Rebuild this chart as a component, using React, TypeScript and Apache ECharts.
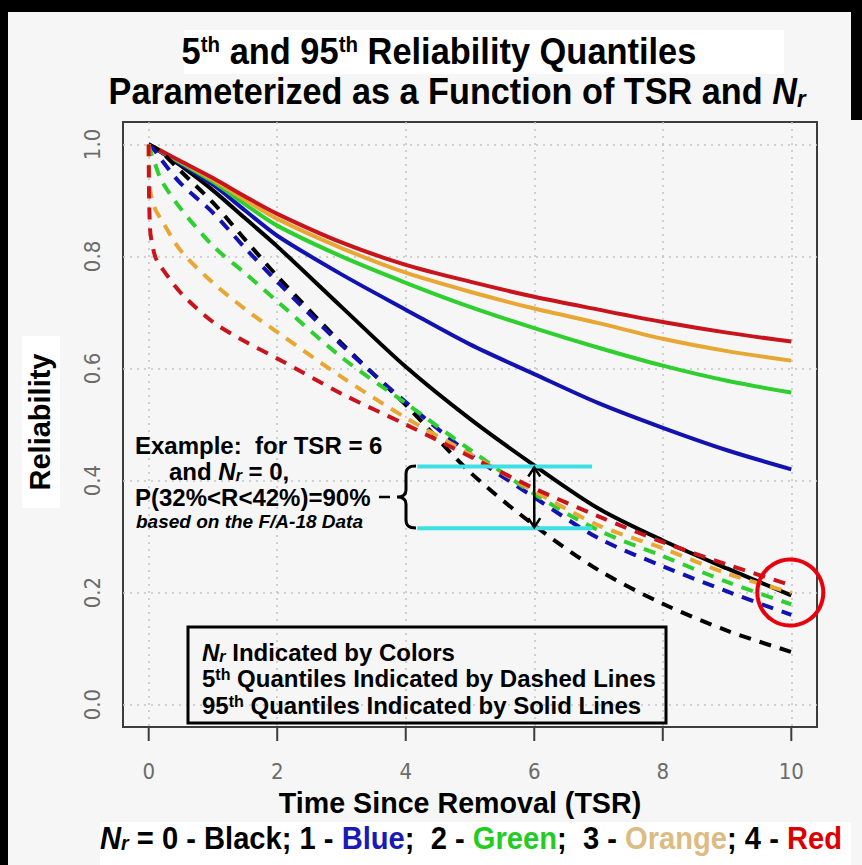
import React, { useEffect, useRef } from "react";
import * as echarts from "echarts";

// ---- data ----
const tsr = [0, 0.02, 0.1, 0.2, 0.5, 1, 1.5, 2, 3, 4, 5, 6, 7, 8, 9, 10];

// 95th quantiles (solid lines)
const q95Nr0 = [1.0, 0.998, 0.993, 0.986, 0.962, 0.918, 0.868, 0.818, 0.71, 0.603, 0.51, 0.427, 0.35, 0.293, 0.243, 0.195];
const q95Nr1 = [1.0, 0.998, 0.993, 0.986, 0.965, 0.928, 0.882, 0.837, 0.768, 0.705, 0.643, 0.59, 0.538, 0.494, 0.454, 0.42];
const q95Nr2 = [1.0, 0.998, 0.994, 0.987, 0.967, 0.933, 0.893, 0.855, 0.8, 0.753, 0.71, 0.672, 0.637, 0.605, 0.578, 0.557];
const q95Nr3 = [1.0, 0.998, 0.994, 0.988, 0.969, 0.937, 0.901, 0.867, 0.815, 0.771, 0.737, 0.707, 0.681, 0.653, 0.631, 0.614];
const q95Nr4 = [1.0, 0.999, 0.994, 0.988, 0.97, 0.94, 0.907, 0.876, 0.825, 0.785, 0.755, 0.728, 0.705, 0.683, 0.664, 0.648];

// 5th quantiles (dashed lines)
const q05Nr0 = [1.0, 0.999, 0.994, 0.986, 0.952, 0.896, 0.83, 0.765, 0.645, 0.535, 0.415, 0.32, 0.24, 0.18, 0.132, 0.094];
const q05Nr1 = [1.0, 0.998, 0.988, 0.972, 0.93, 0.878, 0.815, 0.755, 0.642, 0.54, 0.447, 0.37, 0.297, 0.247, 0.202, 0.16];
const q05Nr2 = [1.0, 0.99, 0.965, 0.935, 0.885, 0.819, 0.77, 0.72, 0.62, 0.538, 0.455, 0.376, 0.311, 0.265, 0.219, 0.179];
const q05Nr3 = [1.0, 0.92, 0.885, 0.865, 0.81, 0.753, 0.706, 0.665, 0.585, 0.512, 0.447, 0.381, 0.32, 0.279, 0.234, 0.2];
const q05Nr4 = [1.0, 0.85, 0.8, 0.78, 0.735, 0.683, 0.648, 0.618, 0.555, 0.5, 0.443, 0.386, 0.336, 0.29, 0.25, 0.213];

const xTicks = [0, 2, 4, 6, 8, 10];
const yTicks = [0, 0.2, 0.4, 0.6, 0.8, 1.0];
const xRange = [-0.4, 10.4];
const yRange = [-0.04, 1.04];

// example annotation (TSR = 6, Nr = 0)
const exampleTSR = 6;
const exampleUpper = 0.425;
const exampleLower = 0.315;
const cyanFrom = 4.18;
const cyanTo = 6.9;
const circledPoint = [10, 0.2];

const nrColors = ["#000000", "#1212b0", "#2ecf2e", "#e8a632", "#c8141c"];

const BRACE_D =
  "M20,0 C13,0 10,2 10,8 L10,24 C10,29 7,31 1,31 C7,31 10,33 10,38 L10,54 C10,60 13,62 20,62";
echarts.graphic.registerShape("brace", echarts.graphic.extendPath(BRACE_D, {}));

const SANS = "'Liberation Sans', Arial, Helvetica, sans-serif";
const NARROW = "'Liberation Sans Narrow', 'Arial Narrow', 'DejaVu Sans Condensed', 'Liberation Sans', sans-serif";
const AXIS_COLOR = "#3c3c3c";

// plot box layout
const BOX = { left: 123, top: 122, right: 45, bottom: 138 };
const TICK_PX = 14;

export default function App() {
  const ref = useRef<HTMLDivElement>(null);

  useEffect(() => {
    const el = ref.current!;
    const chart = echarts.init(el, null, { renderer: "svg" });

    const pairs = (ys: number[]) => tsr.map((t, i) => [t, ys[i]]);
    const solids = [q95Nr0, q95Nr1, q95Nr2, q95Nr3, q95Nr4];
    const dashes = [q05Nr0, q05Nr1, q05Nr2, q05Nr3, q05Nr4];

    // data units per pixel (for the outward tick length)
    const boxW = 862 - BOX.left - BOX.right;
    const boxH = 865 - BOX.top - BOX.bottom;
    const tickDX = ((xRange[1] - xRange[0]) / boxW) * TICK_PX;
    const tickDY = ((yRange[1] - yRange[0]) / boxH) * TICK_PX;

    const series: any[] = [];
    solids.forEach((ys, i) =>
      series.push({
        type: "line",
        name: "95th Nr=" + i,
        data: pairs(ys),
        showSymbol: false,
        smooth: 0.3,
        lineStyle: { color: nrColors[i], width: 4 },
        z: 2,
      })
    );
    dashes.forEach((ys, i) =>
      series.push({
        type: "line",
        name: "5th Nr=" + i,
        data: pairs(ys),
        showSymbol: false,
        smooth: 0.3,
        lineStyle: { color: nrColors[i], width: 4, type: [12, 9], cap: "butt" },
        z: 3,
      })
    );
    [exampleUpper, exampleLower].forEach((v) =>
      series.push({
        type: "line",
        data: [
          [cyanFrom, v],
          [cyanTo, v],
        ],
        showSymbol: false,
        lineStyle: { color: "#3ee0e6", width: 4 },
        z: 4,
      })
    );
    // outward tick marks (R style), unclipped
    xTicks.forEach((t) =>
      series.push({
        type: "line",
        clip: false,
        silent: true,
        data: [
          [t, yRange[0]],
          [t, yRange[0] - tickDY],
        ],
        showSymbol: false,
        lineStyle: { color: AXIS_COLOR, width: 2 },
        z: 6,
      })
    );
    yTicks.forEach((v) =>
      series.push({
        type: "line",
        clip: false,
        silent: true,
        data: [
          [xRange[0], v],
          [xRange[0] - tickDX, v],
        ],
        showSymbol: false,
        lineStyle: { color: AXIS_COLOR, width: 2 },
        z: 6,
      })
    );

    const axisLabelStyle = {
      color: "#6b6b6b",
      fontSize: 22,
      fontFamily: NARROW,
    };
    const splitLine = {
      show: true,
      showMinLine: false,
      showMaxLine: false,
      lineStyle: { color: "#c4c4c4", width: 1.5, type: [2, 5] },
    };

    chart.setOption({
      animation: false,
      backgroundColor: "#f6f6f6",
      grid: {
        ...BOX,
        show: true,
        borderColor: AXIS_COLOR,
        borderWidth: 2,
        backgroundColor: "transparent",
      },
      xAxis: {
        type: "value",
        min: xRange[0],
        max: xRange[1],
        axisLine: { show: false, onZero: false },
        axisTick: { show: false },
        axisLabel: {
          customValues: xTicks,
          margin: 33,
          formatter: (v: number) => String(v),
          ...axisLabelStyle,
        },
        splitLine,
      },
      yAxis: {
        type: "value",
        min: yRange[0],
        max: yRange[1],
        axisLine: { show: false, onZero: false },
        axisTick: { show: false },
        axisLabel: {
          customValues: yTicks,
          rotate: 90,
          margin: 20,
          formatter: (v: number) => v.toFixed(1),
          ...axisLabelStyle,
        },
        splitLine,
      },
      series,
    });

    const px = (x: number, y: number) => chart.convertToPixel({ gridIndex: 0 }, [x, y]) as number[];
    const top = px(exampleTSR, exampleUpper);
    const bot = px(exampleTSR, exampleLower);
    const circ = px(circledPoint[0], circledPoint[1]);

    const bold = (size: number, fill = "#000", extra: any = {}) => ({
      fontSize: size,
      fontWeight: "bold",
      fontFamily: SANS,
      fill,
      ...extra,
    });

    const elements: any[] = [
      // black frame
      { type: "rect", shape: { x: 0, y: 0, width: 8, height: 865 }, style: { fill: "#000" } },
      { type: "rect", shape: { x: 0, y: 0, width: 862, height: 12 }, style: { fill: "#000" } },
      { type: "rect", shape: { x: 851, y: 0, width: 11, height: 120 }, style: { fill: "#000" } },
      // lighter patches
      { type: "rect", shape: { x: 184, y: 30, width: 600, height: 44 }, style: { fill: "#ffffff" } },
      { type: "rect", shape: { x: 22, y: 336, width: 38, height: 172 }, style: { fill: "#ffffff" } },
      { type: "rect", shape: { x: 100, y: 822, width: 751, height: 43 }, style: { fill: "#ffffff" } },
      // title
      {
        type: "text",
        x: 439,
        y: 52,
        scaleX: 0.93,
        z: 5,
        style: {
          text: "{a|5}{s|th}{a| and 95}{s|th}{a| Reliability Quantiles}",
          align: "center",
          verticalAlign: "middle",
          rich: {
            a: bold(37),
            s: bold(22, "#000", { verticalAlign: "top" }),
          },
        },
      },
      {
        type: "text",
        x: 457,
        y: 92,
        scaleX: 0.925,
        z: 5,
        style: {
          text: "{a|Parameterized as a Function of TSR and }{i|N}{r|r}",
          align: "center",
          verticalAlign: "middle",
          rich: {
            a: bold(37),
            i: bold(37, "#000", { fontStyle: "italic" }),
            r: bold(24, "#000", { fontStyle: "italic", verticalAlign: "bottom" }),
          },
        },
      },
      // y title
      {
        type: "text",
        x: 40,
        y: 422,
        rotation: Math.PI / 2,
        z: 5,
        style: { text: "Reliability", align: "center", verticalAlign: "middle", ...bold(29) },
      },
      // x title
      {
        type: "text",
        x: 460,
        y: 802,
        scaleX: 0.955,
        z: 5,
        style: { text: "Time Since Removal (TSR)", align: "center", verticalAlign: "middle", ...bold(30) },
      },
      // colour key
      {
        type: "text",
        x: 471,
        y: 838,
        scaleX: 0.94,
        z: 5,
        style: {
          text:
            "{i|N}{r|r}{k| = 0 - Black; 1 - }{bl|Blue}{k|;  2 - }{gr|Green}{k|;  3 - }{or|Orange}{k|; 4 - }{rd|Red}",
          align: "center",
          verticalAlign: "middle",
          rich: {
            i: bold(31, "#000", { fontStyle: "italic" }),
            r: bold(21, "#000", { fontStyle: "italic", verticalAlign: "bottom" }),
            k: bold(31),
            bl: bold(31, "#1a1ab4"),
            gr: bold(31, "#22cc22"),
            or: bold(31, "#dcbc82"),
            rd: bold(31, "#dd0000"),
          },
        },
      },
      // example annotation
      {
        type: "text",
        x: 135,
        y: 445,
        z: 5,
        style: { text: "Example:  for TSR = 6", align: "left", verticalAlign: "middle", ...bold(24) },
      },
      {
        type: "text",
        x: 169,
        y: 471,
        z: 5,
        style: {
          text: "{a|and }{i|N}{r|r}{a| = 0,}",
          align: "left",
          verticalAlign: "middle",
          rich: {
            a: bold(24),
            i: bold(24, "#000", { fontStyle: "italic" }),
            r: bold(16, "#000", { fontStyle: "italic", verticalAlign: "bottom" }),
          },
        },
      },
      {
        type: "text",
        x: 135,
        y: 497,
        z: 5,
        style: { text: "P(32%<R<42%)=90%", align: "left", verticalAlign: "middle", ...bold(24) },
      },
      {
        type: "text",
        x: 136,
        y: 521,
        z: 5,
        style: {
          text: "based on the F/A-18 Data",
          align: "left",
          verticalAlign: "middle",
          ...bold(19, "#000", { fontStyle: "italic" }),
        },
      },
      {
        type: "line",
        z: 5,
        shape: { x1: 379, y1: 497, x2: 390, y2: 497 },
        style: { stroke: "#000", lineWidth: 2.5 },
      },
      {
        type: "brace",
        x: 396,
        y: 466,
        z: 5,
        style: { stroke: "#000", lineWidth: 3, fill: "none" },
      },
      // double-headed arrow
      {
        type: "line",
        z: 20,
        shape: { x1: top[0], y1: top[1] + 1, x2: bot[0], y2: bot[1] - 1 },
        style: { stroke: "#000", lineWidth: 2.5 },
      },
      {
        type: "polyline",
        z: 20,
        shape: { points: [[top[0] - 6, top[1] + 10], [top[0], top[1] + 1], [top[0] + 6, top[1] + 10]] },
        style: { stroke: "#000", lineWidth: 2.5, fill: "none" },
      },
      {
        type: "polyline",
        z: 20,
        shape: { points: [[bot[0] - 6, bot[1] - 10], [bot[0], bot[1] - 1], [bot[0] + 6, bot[1] - 10]] },
        style: { stroke: "#000", lineWidth: 2.5, fill: "none" },
      },
      // red circle
      {
        type: "circle",
        z: 20,
        shape: { cx: circ[0] - 1, cy: circ[1], r: 33 },
        style: { stroke: "#e8000c", lineWidth: 4, fill: "none" },
      },
      // legend box
      {
        type: "rect",
        z: 5,
        shape: { x: 188, y: 627, width: 478, height: 96 },
        style: { stroke: "#000", lineWidth: 3, fill: "transparent" },
      },
      {
        type: "text",
        x: 202,
        y: 652,
        z: 6,
        style: {
          text: "{i|N}{r|r}{a| Indicated by Colors}",
          align: "left",
          verticalAlign: "middle",
          rich: {
            a: bold(24),
            i: bold(24, "#000", { fontStyle: "italic" }),
            r: bold(16, "#000", { fontStyle: "italic", verticalAlign: "bottom" }),
          },
        },
      },
      {
        type: "text",
        x: 202,
        y: 678,
        z: 6,
        style: {
          text: "{a|5}{s|th}{a| Quantiles Indicated by Dashed Lines}",
          align: "left",
          verticalAlign: "middle",
          rich: { a: bold(24), s: bold(16, "#000", { verticalAlign: "top" }) },
        },
      },
      {
        type: "text",
        x: 202,
        y: 705,
        z: 6,
        style: {
          text: "{a|95}{s|th}{a| Quantiles Indicated by Solid Lines}",
          align: "left",
          verticalAlign: "middle",
          rich: { a: bold(24), s: bold(16, "#000", { verticalAlign: "top" }) },
        },
      },
    ];

    chart.setOption({ graphic: { elements } });

    return () => chart.dispose();
  }, []);

  return (
    <div
      ref={ref}
      style={{ position: "absolute", left: 0, top: 0, width: 862, height: 865 }}
    />
  );
}
